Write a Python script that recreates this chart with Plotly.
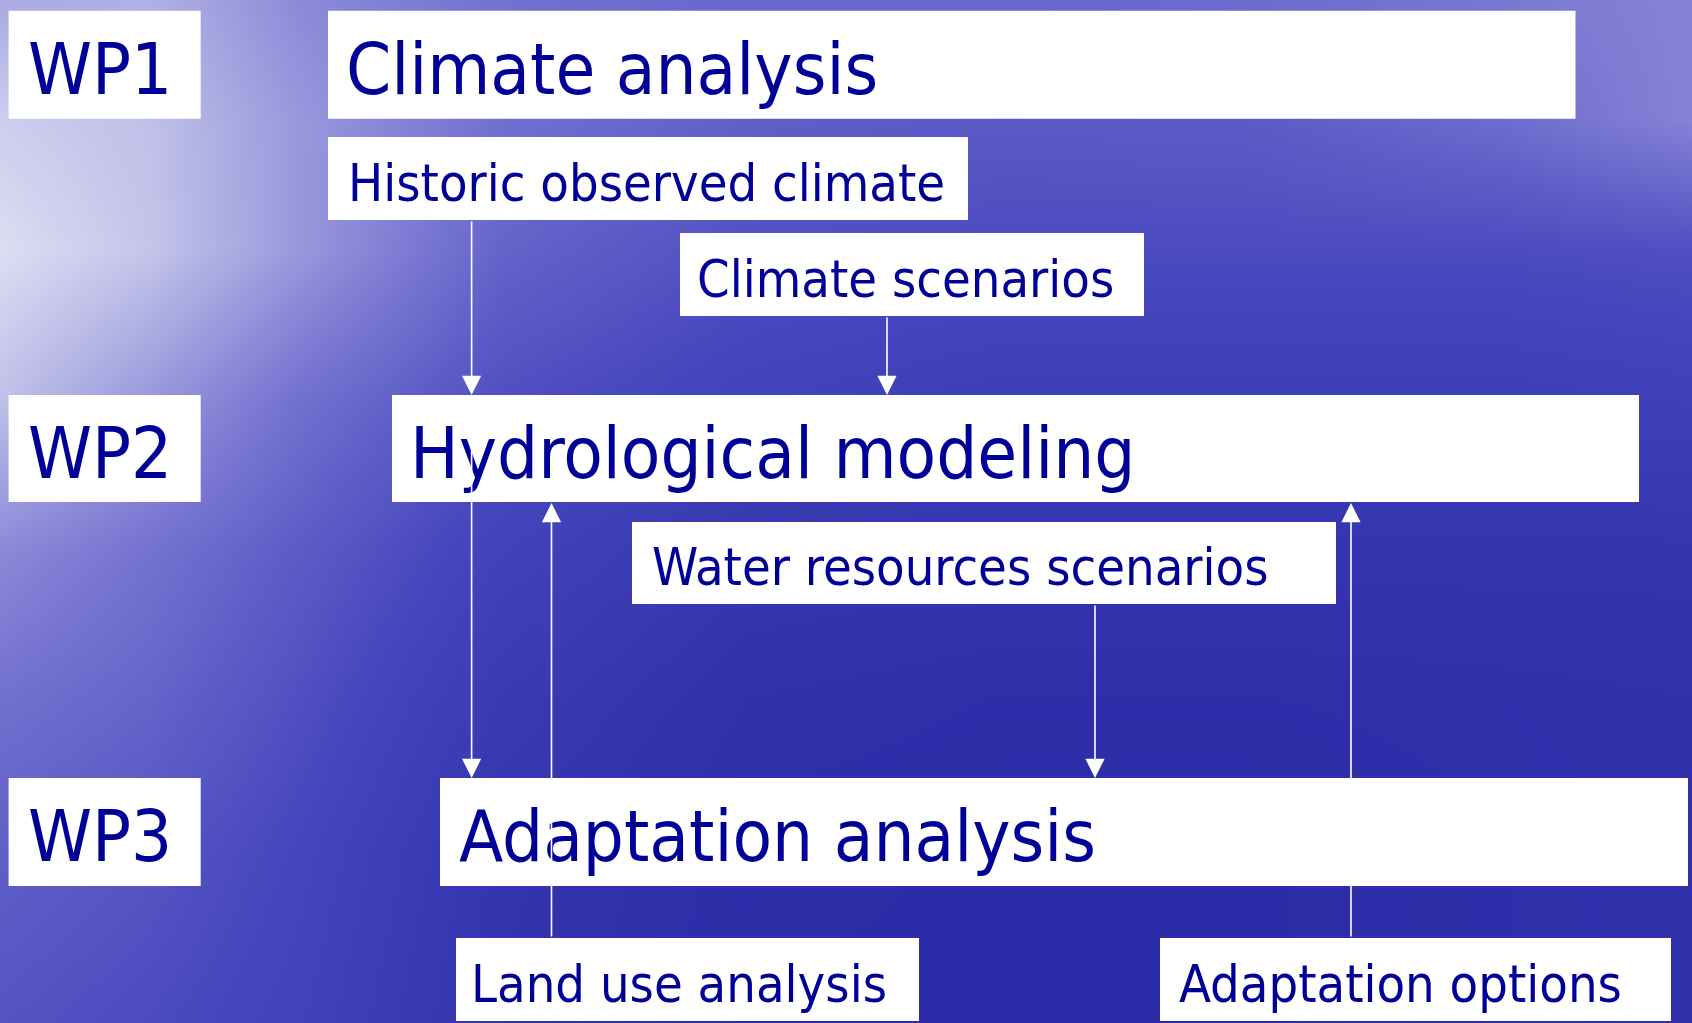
import plotly.graph_objects as go

# ---------------- data ----------------
wp_labels = ["WP1", "WP2", "WP3"]
main_titles = ["Climate analysis", "Hydrological modeling", "Adaptation analysis"]
input_labels = ["Historic observed climate", "Climate scenarios",
                "Water resources scenarios", "Land use analysis", "Adaptation options"]

# background brightness (0 = deep blue, 1 = near white)
bg_x = [0, 150, 300, 500, 750, 1000, 1250, 1500, 1692]
bg_y = [0, 120, 250, 400, 550, 700, 850, 1023]
bg_z = [
    [0.72, 0.75, 0.58, 0.47, 0.42, 0.42, 0.44, 0.50, 0.55],
    [0.88, 0.82, 0.64, 0.46, 0.38, 0.35, 0.36, 0.44, 0.55],
    [0.95, 0.84, 0.64, 0.40, 0.30, 0.28, 0.28, 0.28, 0.30],
    [0.82, 0.64, 0.46, 0.30, 0.22, 0.18, 0.18, 0.18, 0.20],
    [0.58, 0.47, 0.36, 0.22, 0.12, 0.10, 0.10, 0.10, 0.10],
    [0.46, 0.40, 0.30, 0.15, 0.06, 0.04, 0.04, 0.05, 0.06],
    [0.38, 0.33, 0.25, 0.10, 0.03, 0.02, 0.02, 0.04, 0.06],
    [0.32, 0.28, 0.22, 0.08, 0.02, 0.02, 0.02, 0.04, 0.06],
]

# ---------------- layout geometry ----------------
W, H = 1692, 1023
wp_boxes = [(8.6, 200.7, 10.8, 118.7), (8.6, 200.7, 395, 502), (8.6, 200.7, 778, 886)]
main_boxes = [(328, 1575.5, 10.8, 118.7), (392, 1639, 395, 502), (440, 1688, 778, 886)]
input_boxes = [(328, 968, 137, 220), (680, 1144, 233, 316), (632, 1336, 522, 604),
               (456, 919, 938, 1021), (1160, 1671, 938, 1021)]
wp_text_x = [26, 26, 26]
main_text_x = [344, 408, 457]
input_text_x = [346, 695, 650, 469, 1177]
arrows = [(471.6, 220, 395), (471.6, 395, 778), (887, 316, 395),
          (1095, 604, 778), (551.5, 938, 503), (1351, 938, 503)]

TEXT_COLOR = "#000099"
FONT = "DejaVu Sans Condensed, Liberation Sans, Arial, sans-serif"
BIG, SMALL = 72, 52
TEXT_DY = 4

fig = go.Figure()
fig.add_trace(go.Heatmap(
    x=bg_x, y=bg_y, z=bg_z, zsmooth="best", showscale=False, hoverinfo="skip",
    zmin=0, zmax=1,
    colorscale=[[0.0, "#2a2aa6"], [0.25, "#4545bd"], [0.5, "#7a78d2"],
                [0.75, "#b0b0e4"], [1.0, "#e8e8f6"]],
))

shapes = []
annotations = []


def add_box(box, text, tx, size):
    x0, x1, y0, y1 = box
    shapes.append(dict(type="rect", xref="x", yref="y", x0=x0, x1=x1, y0=y0, y1=y1,
                       fillcolor="white", line=dict(width=0), layer="above"))
    annotations.append(dict(x=tx, y=(y0 + y1) / 2 + TEXT_DY, xref="x", yref="y", text=text,
                            showarrow=False, xanchor="left", yanchor="middle",
                            font=dict(family=FONT, size=size, color=TEXT_COLOR)))


for b, t, tx in zip(wp_boxes, wp_labels, wp_text_x):
    add_box(b, t, tx, BIG)
for b, t, tx in zip(main_boxes, main_titles, main_text_x):
    add_box(b, t, tx, BIG)
for b, t, tx in zip(input_boxes, input_labels, input_text_x):
    add_box(b, t, tx, SMALL)

for ax_, y_tail, y_tip in arrows:
    annotations.append(dict(x=ax_, y=y_tip, ax=ax_, ay=y_tail, xref="x", yref="y",
                            axref="x", ayref="y", text="", showarrow=True,
                            arrowhead=2, arrowsize=2.4, arrowwidth=1.6,
                            arrowcolor="white", standoff=0, startstandoff=0))

fig.update_layout(
    width=W, height=H, margin=dict(l=0, r=0, t=0, b=0),
    paper_bgcolor="#3a3ab4", plot_bgcolor="#3a3ab4",
    xaxis=dict(range=[0, W], visible=False, fixedrange=True),
    yaxis=dict(range=[H, 0], visible=False, fixedrange=True),
    shapes=shapes, annotations=annotations, showlegend=False,
)

fig.write_html("out.html", config={"displayModeBar": False},
               post_script="document.body.style.margin='0';document.body.style.overflow='hidden';")
